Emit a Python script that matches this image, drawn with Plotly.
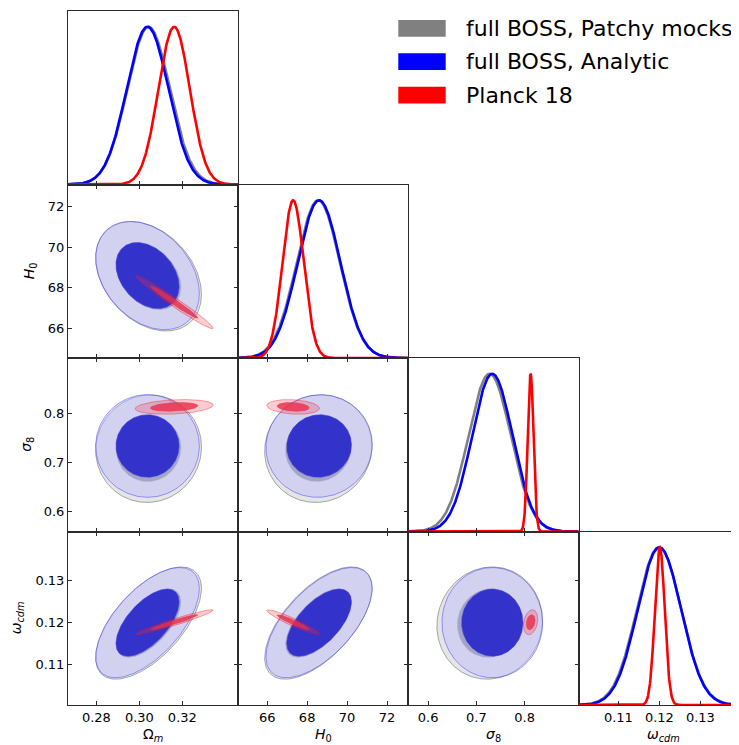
import numpy as np
import plotly.graph_objects as go

# ---------------- data ----------------
param_labels = ["Ω<sub><i>m</i></sub>", "<i>H</i><sub>0</sub>",
                "<i>σ</i><sub>8</sub>", "<i>ω</i><sub><i>cdm</i></sub>"]
param_ranges = [[0.2668, 0.3460], [64.55, 73.07], [0.559, 0.912], [0.1003, 0.1418]]
tick_values = [[0.28, 0.30, 0.32], [66, 68, 70, 72], [0.6, 0.7, 0.8], [0.11, 0.12, 0.13]]
tick_texts = [["0.28", "0.30", "0.32"], ["66", "68", "70", "72"],
              ["0.6", "0.7", "0.8"], ["0.11", "0.12", "0.13"]]

series_names = ["full BOSS, Patchy mocks", "full BOSS, Analytic", "Planck 18"]

# marginal means / standard deviations: [Omega_m, H0, sigma8, omega_cdm]
patchy_mean = [0.3043, 68.56, 0.7275, 0.1199]
patchy_sd = [0.0099, 1.08, 0.0440, 0.0054]
analytic_mean = [0.3038, 68.60, 0.7330, 0.1200]
analytic_sd = [0.0097, 1.07, 0.0420, 0.0053]
planck_mean = [0.3162, 67.30, 0.8125, 0.1201]
planck_sd = [0.0073, 0.53, 0.0060, 0.0012]

# correlation coefficients for pairs (x param, y param)
pairs = [(0, 1), (0, 2), (0, 3), (1, 2), (1, 3), (2, 3)]
patchy_corr = [-0.33, 0.03, 0.62, 0.05, 0.62, 0.05]
analytic_corr = [-0.33, 0.00, 0.62, 0.03, 0.62, 0.00]
planck_corr = [-0.98, 0.25, 0.96, -0.20, -0.94, 0.25]

# ---------------- styles ----------------
styles = [
    dict(line="rgb(128,128,128)", f95="rgba(150,150,150,0.25)", e95="rgba(120,120,120,0.8)",
         f68="rgb(150,150,158)", e68="rgb(150,150,158)"),
    dict(line="rgb(0,0,255)", f95="rgba(184,184,255,0.42)", e95="rgba(40,40,255,0.55)",
         f68="rgb(51,51,204)", e68="rgb(60,60,220)"),
    dict(line="rgb(255,0,0)", f95="rgba(240,50,70,0.25)", e95="rgba(255,0,0,0.45)",
         f68="rgba(232,45,70,0.8)", e68="rgba(232,45,70,0.8)"),
]
datasets = [
    (patchy_mean, patchy_sd, patchy_corr),
    (analytic_mean, analytic_sd, analytic_corr),
    (planck_mean, planck_sd, planck_corr),
]

R68 = np.sqrt(2.296)
R95 = np.sqrt(6.18)

# the page body adds an 8px offset; the figure is laid out in page pixels minus that
OFF = 8
W, H = 739 - OFF, 745 - OFF
ML, MR, MT, MB = 68 - OFF, 0, 11 - OFF, 40
PW = W - ML - MR
PH = H - MT - MB
cell_w_px = 170.2
col_w = cell_w_px / PW
row_h = 0.25
N = 4

fig = go.Figure()
layout = dict()

axis_id = {}
k = 0
for i in range(N):
    for j in range(i + 1):
        k += 1
        axis_id[(i, j)] = k


def ax_names(i, j):
    n = axis_id[(i, j)]
    s = "" if n == 1 else str(n)
    return "x" + s, "y" + s, "xaxis" + s, "yaxis" + s


def ell(mx, my, sx, sy, rho, r):
    t = np.linspace(0, 2 * np.pi, 200)
    u = r * np.cos(t)
    v = r * np.sin(t)
    x = mx + sx * u
    y = my + sy * (rho * u + np.sqrt(1 - rho ** 2) * v)
    return x, y


LINE_C = "#2b2b2b"
font_tick = dict(family="DejaVu Sans", size=13, color="black")


def px_x(px):  # page pixel -> paper
    return (px - OFF - ML) / PW


def px_y(py):
    return (H - MB - (py - OFF)) / PH


annotations = []
for i in range(N):
    for j in range(i + 1):
        xa, ya, xk, yk = ax_names(i, j)
        x0 = j * col_w
        x1 = min((j + 1) * col_w, 1.0)
        y1 = 1 - i * row_h
        y0 = 1 - (i + 1) * row_h
        xr = list(param_ranges[j])
        if (j + 1) * col_w > 1.0:
            frac = (1.0 - x0) / col_w
            xr = [xr[0], xr[0] + (xr[1] - xr[0]) * frac]
        bottom = (i == N - 1)
        common_x = dict(domain=[x0, x1], range=xr, anchor=ya, showline=True,
                        linecolor=LINE_C, linewidth=1, ticks="inside", automargin=False,
                        ticklen=4, tickcolor=LINE_C, tickvals=tick_values[j],
                        ticktext=tick_texts[j], showticklabels=bottom,
                        showgrid=False, zeroline=False, tickfont=font_tick)
        if i == j:
            xs = np.linspace(xr[0], xr[1], 500)
            for (m, sd, _), st, nm in zip(datasets, styles, series_names):
                ys = np.exp(-0.5 * ((xs - m[j]) / sd[j]) ** 2)
                fig.add_trace(go.Scatter(x=xs, y=ys, mode="lines", name=nm, showlegend=False,
                                         line=dict(color=st["line"], width=2.6),
                                         xaxis=xa, yaxis=ya, hoverinfo="skip"))
            layout[xk] = dict(common_x, mirror=True)
            layout[yk] = dict(domain=[y0, y1], range=[0, 1.1], anchor=xa, showline=True,
                              linecolor=LINE_C, linewidth=1, mirror=(x1 < 1.0), ticks="",
                              automargin=False, showticklabels=False, showgrid=False,
                              zeroline=False)
        else:
            pidx = pairs.index((j, i))
            for (m, sd, cr), st in zip(datasets, styles):
                for r, fc, ec, ew in ((R95, st["f95"], st["e95"], 0.8),
                                      (R68, st["f68"], st["e68"], 0.5)):
                    ex, ey = ell(m[j], m[i], sd[j], sd[i], cr[pidx], r)
                    fig.add_trace(go.Scatter(x=ex, y=ey, mode="lines", fill="toself",
                                             fillcolor=fc, line=dict(color=ec, width=ew),
                                             showlegend=False, xaxis=xa, yaxis=ya,
                                             hoverinfo="skip"))
            layout[xk] = dict(common_x, mirror="ticks")
            layout[yk] = dict(domain=[y0, y1], range=param_ranges[i], anchor=xa, showline=True,
                              linecolor=LINE_C, linewidth=1, mirror="ticks", ticks="inside",
                              automargin=False, ticklen=4, tickcolor=LINE_C,
                              tickvals=tick_values[i], ticktext=tick_texts[i],
                              showticklabels=(j == 0), showgrid=False, zeroline=False,
                              tickfont=font_tick)

# axis titles (page pixel positions)
title_font = dict(family="DejaVu Sans", size=14, color="black")
for j in range(N):
    cx = 68 + (j + 0.5) * cell_w_px
    annotations.append(dict(text=param_labels[j], xref="paper", yref="paper",
                            x=px_x(cx), y=px_y(735), xanchor="center", yanchor="middle",
                            showarrow=False, font=title_font))
ytitle_x = {1: 30, 2: 27, 3: 17}
for i in range(1, N):
    cy = 11 + (i + 0.5) * PH * row_h
    annotations.append(dict(text=param_labels[i], xref="paper", yref="paper",
                            x=px_x(ytitle_x[i]), y=px_y(cy), xanchor="center",
                            yanchor="middle", textangle=-90, showarrow=False, font=title_font))

# ---------------- legend (patches + text) ----------------
shapes = []
leg_colors = ["rgb(128,128,128)", "rgb(0,0,255)", "rgb(255,0,0)"]
for n, (nm, c) in enumerate(zip(series_names, leg_colors)):
    cy = 28.3 + n * 33.4
    shapes.append(dict(type="rect", xref="paper", yref="paper",
                       x0=px_x(398.3), x1=px_x(445.7), y0=px_y(cy + 8.4), y1=px_y(cy - 8.4),
                       fillcolor=c, line=dict(width=0)))
    annotations.append(dict(text=nm, xref="paper", yref="paper", x=px_x(464),
                            y=px_y(cy), xanchor="left", yanchor="middle",
                            showarrow=False,
                            font=dict(family="DejaVu Sans", size=22, color="black")))

fig.update_layout(**layout)
fig.update_layout(width=W, height=H, margin=dict(l=ML, r=MR, t=MT, b=MB, autoexpand=False),
                  plot_bgcolor="white", paper_bgcolor="white", showlegend=False,
                  shapes=shapes, annotations=annotations,
                  font=dict(family="DejaVu Sans", color="black"))
fig.write_html("out.html")
